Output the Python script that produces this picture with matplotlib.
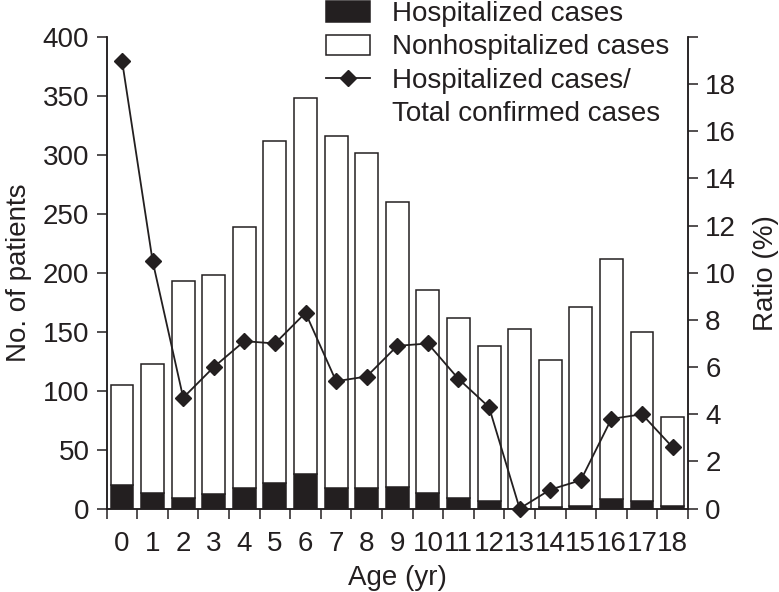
import numpy as np
import matplotlib
matplotlib.use("Agg")
import matplotlib.pyplot as plt
from matplotlib.lines import Line2D
from matplotlib.patches import Patch

plt.rcParams["font.family"] = ["Liberation Sans", "DejaVu Sans"]

# ---------------------------------------------------------------------------
# Data
# ---------------------------------------------------------------------------
ages = list(range(19))
hospitalized = [20, 13, 9, 12, 17, 22, 29, 17, 17, 18, 13, 9, 6, 0, 1, 2, 8, 6, 2]
total_cases = [105, 123, 193, 198, 239, 312, 348, 316, 302, 260,
               185, 162, 138, 152, 126, 171, 212, 150, 78]
nonhospitalized = [t - h for t, h in zip(total_cases, hospitalized)]
ratio_pct = [19.0, 10.5, 4.7, 6.0, 7.1, 7.0, 8.3, 5.4, 5.6, 6.9,
             7.0, 5.5, 4.3, 0.0, 0.8, 1.2, 3.8, 4.0, 2.6]

INK = "#231f20"
FS = 20

fig = plt.figure(figsize=(7.79, 5.92), dpi=100)
ax = fig.add_axes([0.137, 0.141, 0.746, 0.7965])

x = np.arange(len(ages))
ax.bar(x, hospitalized, width=0.75, color=INK, edgecolor=INK, linewidth=1.1, zorder=2)
ax.bar(x, nonhospitalized, width=0.75, bottom=hospitalized, color="white",
       edgecolor=INK, linewidth=1.1, zorder=2)

ax.set_xlim(-0.5, 18.5)
ax.set_ylim(0, 400)
ax.set_yticks(np.arange(0, 401, 50))
ax.set_xticks(np.arange(-0.5, 19, 1))
ax.set_xticklabels([])
ax.set_xticks(x, minor=True)
ax.set_xticklabels([str(a) for a in ages], minor=True)
ax.tick_params(axis="x", which="minor", length=0, pad=16, labelsize=FS, colors=INK)
ax.tick_params(axis="x", which="major", length=7.5, width=1.1, color=INK)
ax.tick_params(axis="y", direction="out", length=7.5, width=1.1, labelsize=FS,
               colors=INK, pad=5)
ax.spines["top"].set_visible(False)
for s in ("left", "bottom", "right"):
    ax.spines[s].set_linewidth(1.1)
    ax.spines[s].set_color(INK)
ax.set_xlabel("Age (yr)", fontsize=FS, color=INK, labelpad=6)
ax.set_ylabel("No. of patients", fontsize=FS, color=INK, labelpad=8)

ax2 = ax.twinx()
ax2.plot(x, ratio_pct, color=INK, lw=1.3, marker="D", markersize=8.5,
         markerfacecolor=INK, markeredgecolor=INK, clip_on=False, zorder=3)
ax2.set_ylim(0, 20)
ax2.set_yticks(np.arange(0, 21, 2))
ax2.set_yticklabels([str(v) if v < 20 else "" for v in range(0, 21, 2)])
ax2.tick_params(axis="y", direction="out", length=7.5, width=1.1, labelsize=FS,
                colors=INK, pad=5)
ax2.spines["top"].set_visible(False)
for s in ("left", "bottom", "right"):
    ax2.spines[s].set_linewidth(1.1)
    ax2.spines[s].set_color(INK)
ax2.set_ylabel("Ratio (%)", fontsize=FS, color=INK, labelpad=12)

handles = [
    Patch(facecolor=INK, edgecolor=INK, linewidth=1.1),
    Patch(facecolor="white", edgecolor=INK, linewidth=1.1),
    Line2D([0], [0], color=INK, lw=1.3, marker="D", markersize=8.5),
    Line2D([], [], color="none"),
]
labels = ["Hospitalized cases", "Nonhospitalized cases",
          "Hospitalized cases/", "Total confirmed cases"]
leg = fig.legend(handles, labels, loc="upper left", bbox_to_anchor=(0.418, 0.998),
                 frameon=False, fontsize=FS, handlelength=1.6, handleheight=0.75,
                 handletextpad=0.8, labelspacing=0.26, borderpad=0, borderaxespad=0)
for t in leg.get_texts():
    t.set_color(INK)

fig.savefig("out.png", dpi=100)
